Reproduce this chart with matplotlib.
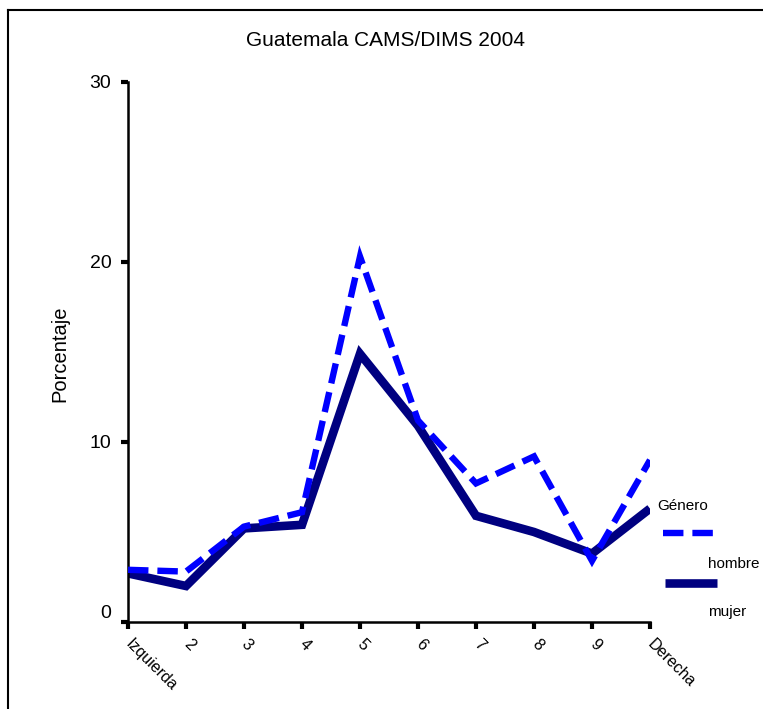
import numpy as np
import matplotlib
matplotlib.use("Agg")
import matplotlib.pyplot as plt
from matplotlib.lines import Line2D

# --- data ---
categories = ['Izquierda', '2', '3', '4', '5', '6', '7', '8', '9', 'Derecha']
hombre = [2.9, 2.8, 5.3, 6.1, 20.3, 11.2, 7.7, 9.2, 3.4, 9.0]
mujer = [2.7, 2.0, 5.2, 5.4, 14.9, 10.9, 5.9, 5.0, 3.8, 6.3]
series_names = ['hombre', 'mujer']
yticks = [0, 10, 20, 30]

plt.rcParams['font.family'] = ['Liberation Sans', 'DejaVu Sans']

fig = plt.figure(figsize=(7.63, 7.09), dpi=100)
ax = fig.add_axes([128 / 763, 1 - 622 / 709, (650 - 128) / 763, (622 - 82) / 709])

x = np.arange(1, len(categories) + 1)
ax.plot(x, mujer, color='#000080', lw=6.2, solid_joinstyle='miter', solid_capstyle='butt', zorder=2)
ax.plot(x, hombre, color='#0000ff', lw=4.6, dashes=(3.2, 1.4),
        dash_capstyle='butt', dash_joinstyle='miter', zorder=3)

ax.set_xlim(1, len(categories))
ax.set_ylim(0, 30)
ax.set_xticks(x)
ax.set_xticklabels(categories, rotation=-45, ha='left', va='center',
                   rotation_mode='anchor', fontsize=11.5)
ax.set_yticks(yticks)
ax.tick_params(axis='y', labelsize=14, length=5, width=3, pad=7)
ax.tick_params(axis='x', length=5, width=3, pad=9)
# the zero label sits a little above its tick in the reference
ax.get_yticklabels()[0].set_va('bottom')
for s in ['top', 'right']:
    ax.spines[s].set_visible(False)
for s in ['left', 'bottom']:
    ax.spines[s].set_linewidth(1.8)

fig.text(60 / 763, 1 - 354 / 709, 'Porcentaje', fontsize=14.5, rotation=90,
         ha='center', va='center')
fig.text(386 / 763, 1 - 41 / 709, 'Guatemala CAMS/DIMS 2004', fontsize=15,
         ha='center', va='center')

# legend drawn by hand, in figure coordinates
fig.text(657 / 763, 1 - 506 / 709, 'Género', fontsize=11, va='center', ha='left')
fig.add_artist(Line2D([663 / 763, 717 / 763], [1 - 533 / 709] * 2, color='#0000ff',
                      lw=4.6, dashes=(3.2, 1.4), dash_capstyle='butt'))
fig.text(708 / 763, 1 - 564 / 709, series_names[0], fontsize=11, va='center', ha='left')
fig.add_artist(Line2D([665 / 763, 717 / 763], [1 - 583 / 709] * 2, color='#000080',
                      lw=6.2, solid_capstyle='butt'))
fig.text(708 / 763, 1 - 612 / 709, series_names[1], fontsize=11, va='center', ha='left')

# page frame partly visible in the reference
fig.add_artist(Line2D([8 / 763, 1.0], [1 - 10 / 709] * 2, color='black', lw=1.5))
fig.add_artist(Line2D([8 / 763] * 2, [0.0, 1 - 10 / 709], color='black', lw=1.5))

fig.savefig('out.png', dpi=100)
